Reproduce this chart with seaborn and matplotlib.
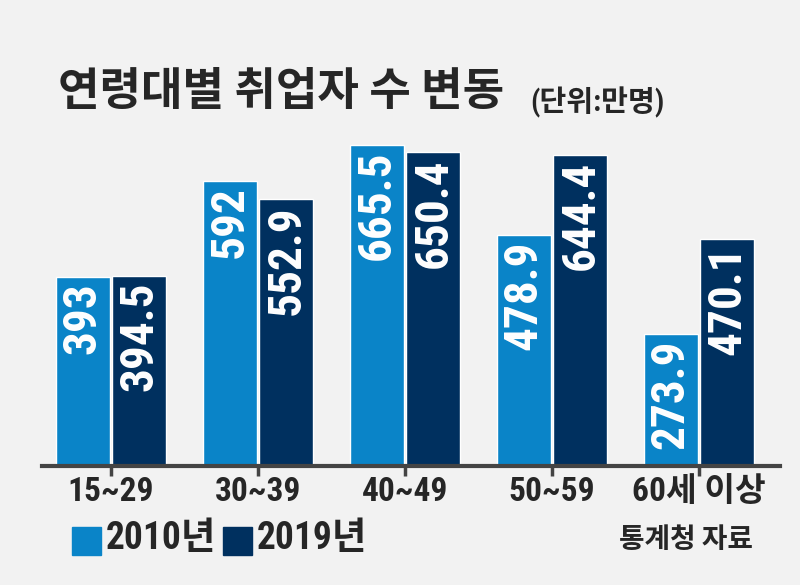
import matplotlib
matplotlib.use("Agg")
import matplotlib.pyplot as plt
from matplotlib.patches import Rectangle
import seaborn as sns
import pandas as pd

# chart values
age_groups = ["15~29", "30~39", "40~49", "50~59", "60세 이상"]
years = ["2010년", "2019년"]
values_2010 = [393, 592, 665.5, 478.9, 273.9]
values_2019 = [394.5, 552.9, 650.4, 644.4, 470.1]
colors = ["#0a84c8", "#00305f"]

sns.set_style("white")
# condensed latin font first, korean falls through to Noto CJK
plt.rcParams["font.family"] = ["Roboto Condensed", "Noto Sans CJK KR", "DejaVu Sans"]

df = pd.DataFrame({
    "age": age_groups * 2,
    "year": [years[0]] * 5 + [years[1]] * 5,
    "value": values_2010 + values_2019,
})

fig = plt.figure(figsize=(8, 5.85), dpi=100, facecolor="#f2f2f2")
ax = fig.add_axes([0.0525, 0.2034, 0.9225, 0.577])
ax.set_facecolor("#f2f2f2")

sns.barplot(data=df, x="age", y="value", hue="year", order=age_groups,
            hue_order=years, palette=colors, width=0.77, gap=0.05,
            saturation=1, legend=False, ax=ax)

ax.set_ylim(0, 700)
ax.set_xlim(-0.469, 4.551)
for s in ["top", "right", "left"]:
    ax.spines[s].set_visible(False)
ax.spines["bottom"].set_color("#444444")
ax.spines["bottom"].set_linewidth(3)
ax.set_yticks([])
ax.set_xlabel("")
ax.set_ylabel("")
ax.tick_params(axis="x", bottom=True, direction="out", length=7.5, width=2.5,
               color="#444444", pad=0)
for lab in ax.get_xticklabels():
    lab.set_fontsize(24)
    lab.set_fontweight("bold")

# value labels inside bars, rotated, hanging from the bar top
for cont, vals in zip(ax.containers, [values_2010, values_2019]):
    for bar, v in zip(cont, vals):
        ax.text(bar.get_x() + bar.get_width() / 2, bar.get_height() - 12,
                f"{v:g}", rotation=90, ha="center", va="top",
                color="white", fontsize=34, fontweight="bold")

# title
fig.text(58 / 800, 1 - 93 / 585, "연령대별 취업자 수 변동", fontsize=32.5,
         fontweight="heavy", ha="left", va="center")
fig.text(530 / 800, 1 - 102 / 585, "(단위:만명)", fontsize=21,
         fontweight="heavy", ha="left", va="center")

# legend
leg_y = 1 - 538 / 585
for x0, yr, c in zip([72, 223], years, colors):
    fig.patches.append(Rectangle((x0 / 800, 1 - 555 / 585), 29 / 800, 28 / 585,
                                 transform=fig.transFigure, color=c))
    fig.text((x0 + 34) / 800, leg_y, yr, fontsize=27, fontweight="bold",
             ha="left", va="center")

fig.text(753 / 800, 1 - 541 / 585, "통계청 자료", fontsize=20,
         fontweight="bold", ha="right", va="center")

fig.savefig("out.png", dpi=100, facecolor=fig.get_facecolor())
